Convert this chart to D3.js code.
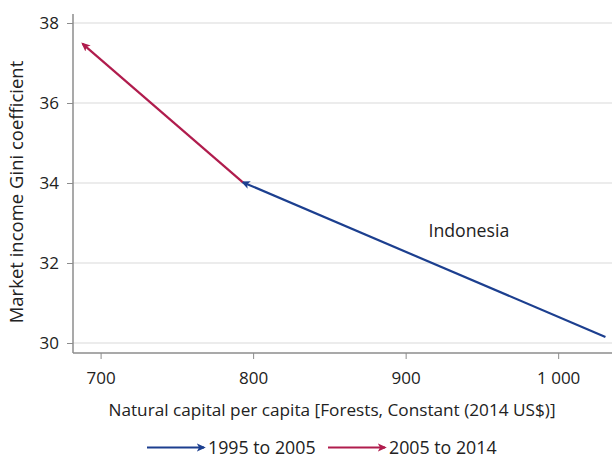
<!DOCTYPE html>
<html><head><meta charset="utf-8">
<script src="https://cdn.jsdelivr.net/npm/d3@7/dist/d3.min.js"></script>
<style>
body{margin:0;background:#fff;}
text{font-family:"Open Sans","Noto Sans",sans-serif;fill:#222;}
</style></head>
<body><svg id="c" width="612" height="459"></svg>
<script>
const xTicks=[700,800,900,1000];
const yTicks=[30,32,34,36,38];
const seriesNames=["1995 to 2005","2005 to 2014"];
const seriesColors=["#1c3f8f","#b01c4d"];
const xValues=[[1031,793.1],[793.1,688.2]];
const yValues=[[30.15,34.02],[34.02,37.48]];
const label="Indonesia";
const labelPos=[915,32.8];

const svg=d3.select("#c");
const L=73,R=612,T=14,B=353;
const x=d3.scaleLinear().domain([681.9,1035.3]).range([L,R]);
const y=d3.scaleLinear().domain([29.75,38.225]).range([B,T]);

const defs=svg.append("defs");
seriesColors.forEach((c,i)=>{
  defs.append("marker").attr("id","m"+i).attr("viewBox","0 -5 10 10")
    .attr("refX",8).attr("refY",0)
    .attr("markerUnits","userSpaceOnUse").attr("orient","auto")
    .attr("markerWidth",9).attr("markerHeight",9)
    .append("path").attr("d","M0,-4.5L10,0L0,4.5L2.5,0Z").attr("fill",c);
});

// gridlines
svg.append("g").selectAll("line").data(yTicks).join("line")
  .attr("x1",L).attr("x2",R).attr("y1",d=>y(d)).attr("y2",d=>y(d))
  .attr("stroke","#d9d9d9").attr("stroke-width",1);

// axes
const fmt=d=>d>=1000?d3.format(",")(d).replace(","," "):d;
const yAxis=svg.append("g").attr("transform",`translate(${L},0)`)
  .call(d3.axisLeft(y).tickValues(yTicks).tickSize(6).tickPadding(8));
const xAxis=svg.append("g").attr("transform",`translate(0,${B})`)
  .call(d3.axisBottom(x).tickValues(xTicks).tickSize(6).tickPadding(10).tickFormat(fmt));
[yAxis,xAxis].forEach(a=>{
  a.select(".domain").attr("stroke","#8c8c8c").attr("stroke-width",1.5);
  a.selectAll(".tick line").attr("stroke","#8c8c8c");
  a.selectAll(".tick text").attr("font-size",17).attr("fill","#222")
    .attr("font-family","'Open Sans','Noto Sans',sans-serif");
});
yAxis.select(".domain").attr("d",`M0,${T}V${B}`);
xAxis.select(".domain").attr("d",`M${L},0H${R}`);
xAxis.selectAll(".tick text").attr("dy","0.9em");

// lines
seriesNames.forEach((n,i)=>{
  svg.append("line")
    .attr("x1",x(xValues[i][0])).attr("y1",y(yValues[i][0]))
    .attr("x2",x(xValues[i][1])).attr("y2",y(yValues[i][1]))
    .attr("stroke",seriesColors[i]).attr("stroke-width",2.2)
    .attr("marker-end",`url(#m${i})`);
});

svg.append("text").attr("x",x(labelPos[0])).attr("y",y(labelPos[1])).attr("dy","0.35em")
  .attr("font-size",17.7).text(label);

// titles
svg.append("text").attr("x",332).attr("y",410).attr("dy","0.35em").attr("text-anchor","middle")
  .attr("font-size",17.2).text("Natural capital per capita [Forests, Constant (2014 US$)]");
svg.append("text").attr("transform","translate(17,192) rotate(-90)").attr("dy","0.35em")
  .attr("text-anchor","middle").attr("font-size",18.5).text("Market income Gini coefficient");

// legend
const lg=svg.append("g");
const lx=[147,328];
const ly=447.5;
seriesNames.forEach((n,i)=>{
  lg.append("line").attr("x1",lx[i]).attr("x2",lx[i]+57).attr("y1",ly).attr("y2",ly)
    .attr("stroke",seriesColors[i]).attr("stroke-width",2.2).attr("marker-end",`url(#m${i})`);
  lg.append("text").attr("x",lx[i]+61).attr("y",ly).attr("dy","0.35em")
    .attr("font-size",17.8).text(n);
});
</script></body></html>
